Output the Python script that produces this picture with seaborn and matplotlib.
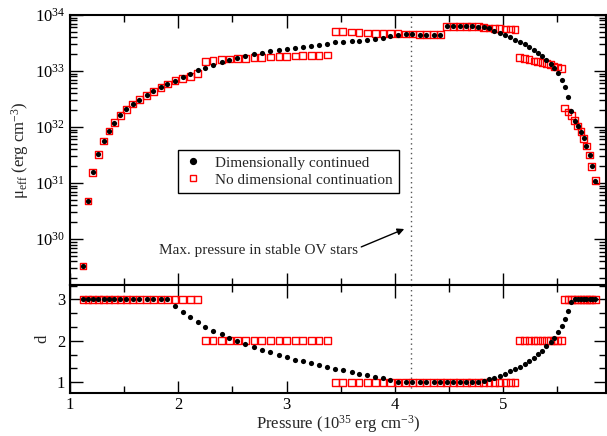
import numpy as np
import pandas as pd
import matplotlib
matplotlib.use("Agg")
import matplotlib.pyplot as plt
import matplotlib.ticker as mticker
from matplotlib.lines import Line2D
import seaborn as sns

# Pressure grid (10^35 erg cm^-3), shared by both solution branches
pressure = [
    1.12, 1.166, 1.21, 1.26, 1.31, 1.36, 1.41, 1.465, 1.52, 1.58,
    1.64, 1.71, 1.77, 1.84, 1.90, 1.97, 2.04, 2.11, 2.18, 2.25,
    2.32, 2.40, 2.47, 2.545, 2.62, 2.70, 2.77, 2.85, 2.93, 3.00,
    3.08, 3.15, 3.23, 3.30, 3.375, 3.45, 3.52, 3.60, 3.67, 3.745,
    3.82, 3.89, 3.96, 4.03, 4.10, 4.16, 4.23, 4.29, 4.36, 4.42,
    4.48, 4.54, 4.60, 4.66, 4.71, 4.77, 4.82, 4.87, 4.92, 4.97,
    5.02, 5.065, 5.11, 5.155, 5.20, 5.24, 5.285, 5.32, 5.36, 5.40,
    5.44, 5.47, 5.505, 5.54, 5.57, 5.60, 5.63, 5.66, 5.69, 5.72,
    5.745, 5.77, 5.80, 5.82, 5.85,
]

# log10 of mu_eff (erg cm^-3), dimensionally continued solution
log_mu_cont = [
    29.52, 30.68, 31.19, 31.51, 31.75, 31.93, 32.08, 32.21, 32.32, 32.41,
    32.49, 32.57, 32.64, 32.71, 32.77, 32.83, 32.89, 32.95, 33.01, 33.05,
    33.10, 33.16, 33.19, 33.23, 33.26, 33.30, 33.33, 33.35, 33.37, 33.39,
    33.41, 33.43, 33.45, 33.47, 33.49, 33.51, 33.52, 33.53, 33.54, 33.56,
    33.58, 33.595, 33.625, 33.65, 33.66, 33.66, 33.65, 33.65, 33.65, 33.65,
    33.80, 33.80, 33.80, 33.80, 33.795, 33.79, 33.78, 33.76, 33.71, 33.68,
    33.64, 33.60, 33.56, 33.52, 33.48, 33.43, 33.38, 33.33, 33.27, 33.20,
    33.13, 33.05, 32.96, 32.845, 32.71, 32.53, 32.28, 32.11, 32.02, 31.92,
    31.80, 31.66, 31.50, 31.30, 31.04,
]

# log10 of mu_eff, integer-dimension solution
log_mu_int = [
    29.52, 30.68, 31.19, 31.51, 31.75, 31.93, 32.08, 32.21, 32.32, 32.41,
    32.49, 32.57, 32.64, 32.71, 32.77, 32.83, 32.86, 32.905, 32.95, 33.173,
    33.19, 33.20, 33.214, 33.22, 33.226, 33.238, 33.244, 33.25, 33.256, 33.262,
    33.268, 33.274, 33.28, 33.28, 33.286, 33.708, 33.70, 33.696, 33.69, 33.68,
    33.673, 33.673, 33.667, 33.667, 33.66, 33.66, 33.65, 33.65, 33.65, 33.65,
    33.80, 33.80, 33.80, 33.80, 33.795, 33.79, 33.78, 33.768, 33.762, 33.756,
    33.75, 33.75, 33.744, 33.24, 33.22, 33.20, 33.18, 33.17, 33.15, 33.13,
    33.11, 33.08, 33.07, 33.05, 32.34, 32.27, 32.20, 32.11, 32.02, 31.92,
    31.80, 31.66, 31.50, 31.30, 31.04,
]

# effective dimension d
d_cont = [
    3.0, 3.0, 3.0, 3.0, 3.0, 3.0, 3.0, 3.0, 3.0, 3.0,
    3.0, 3.0, 3.0, 3.0, 3.0, 2.84, 2.695, 2.566, 2.446, 2.34,
    2.245, 2.157, 2.076, 2.00, 1.916, 1.843, 1.78, 1.72, 1.66, 1.60,
    1.54, 1.51, 1.46, 1.41, 1.37, 1.32, 1.29, 1.25, 1.21, 1.17,
    1.135, 1.095, 1.064, 1.016, 1.008, 1.0, 1.0, 1.0, 1.0, 1.0,
    1.0, 1.0, 1.0, 1.0, 1.0, 1.0, 1.02, 1.07, 1.11, 1.15,
    1.20, 1.26, 1.31, 1.38, 1.44, 1.51, 1.59, 1.68, 1.76, 1.87,
    1.97, 2.08, 2.22, 2.37, 2.53, 2.71, 2.93, 3.0, 3.0, 3.0,
    3.0, 3.0, 3.0, 3.0, 3.0,
]

d_int = [3] * 19 + [2] * 16 + [1] * 28 + [2] * 11 + [3] * 11

p_max_stable = 4.15

legend_labels = ["Dimensionally continued", "No dimensional continuation"]
x_label = r"Pressure (10$^{35}$ erg cm$^{-3}$)"
y_label_top = r"μ$_{\rm eff}$ (erg cm$^{-3}$)"
y_label_bottom = "d"
note_text = "Max. pressure in stable OV stars"

df = pd.DataFrame({
    "P": pressure,
    "mu_cont": np.power(10.0, log_mu_cont),
    "mu_int": np.power(10.0, log_mu_int),
    "d_cont": d_cont,
    "d_int": d_int,
})

sns.set_theme(style="ticks")
plt.rcParams["font.family"] = ["Liberation Serif", "DejaVu Serif"]
plt.rcParams["mathtext.fontset"] = "custom"
plt.rcParams["mathtext.rm"] = "Liberation Serif"
plt.rcParams["mathtext.it"] = "Liberation Serif:italic"
plt.rcParams["mathtext.bf"] = "Liberation Serif:bold"

FS = 11

fig = plt.figure(figsize=(6.07, 4.36), dpi=100)
ax_top = fig.add_axes([0.1153, 0.3463, 0.8830, 0.6193])
ax_bot = fig.add_axes([0.1153, 0.0986, 0.8830, 0.2477], sharex=ax_top)

red_kw = dict(marker="s", s=24, facecolor="none", edgecolor="red", linewidth=1.0, zorder=3)
blk_kw = dict(marker="o", s=14, color="black", edgecolor="black", linewidth=0, zorder=4)

sns.scatterplot(data=df, x="P", y="mu_int", ax=ax_top, **red_kw)
sns.scatterplot(data=df, x="P", y="mu_cont", ax=ax_top, **blk_kw)
sns.scatterplot(data=df, x="P", y="d_int", ax=ax_bot, **red_kw)
sns.scatterplot(data=df, x="P", y="d_cont", ax=ax_bot, **blk_kw)

for ax in (ax_top, ax_bot):
    ax.axvline(p_max_stable, color="#555555", linestyle=(0, (1, 2.5)), linewidth=1.0, zorder=1)
    for sp in ax.spines.values():
        sp.set_linewidth(1.5)
        sp.set_color("black")
    ax.tick_params(which="both", direction="in", top=True, right=True,
                   colors="black", labelsize=FS + 1, width=1.0)
    ax.tick_params(which="major", length=9)
    ax.tick_params(which="minor", length=5)
    ax.set_xlim(1.0, 5.95)
    ax.xaxis.set_major_locator(mticker.MultipleLocator(1))
    ax.xaxis.set_minor_locator(mticker.MultipleLocator(0.5))

ax_top.set_yscale("log")
ax_top.set_ylim(10 ** 29.18, 1e34)
ax_top.yaxis.set_major_locator(mticker.LogLocator(base=10, numticks=10))
ax_top.yaxis.set_minor_locator(mticker.LogLocator(base=10, subs=np.arange(2, 10), numticks=20))
ax_top.yaxis.set_major_formatter(mticker.LogFormatterMathtext())
ax_top.yaxis.set_minor_formatter(mticker.NullFormatter())
ax_top.tick_params(axis="x", labelbottom=False)
ax_top.set_xlabel("")
ax_top.set_ylabel(y_label_top, fontsize=FS + 1)
ax_top.yaxis.set_label_coords(-0.072, 0.5)

ax_bot.set_ylim(0.74, 3.35)
ax_bot.yaxis.set_major_locator(mticker.FixedLocator([1, 2, 3]))
ax_bot.yaxis.set_minor_locator(mticker.MultipleLocator(1 / 3))
ax_bot.set_xlabel(x_label, fontsize=FS + 1, labelpad=0)
ax_bot.set_ylabel(y_label_bottom, fontsize=FS + 1)
ax_bot.yaxis.set_label_coords(-0.036, 0.5)
ax_bot.tick_params(axis="x", pad=3)

handles = [
    Line2D([], [], linestyle="none", marker="o", markersize=4.2,
           markerfacecolor="black", markeredgecolor="black"),
    Line2D([], [], linestyle="none", marker="s", markersize=5,
           markerfacecolor="none", markeredgecolor="red", markeredgewidth=1.0),
]
leg = ax_top.legend(handles, legend_labels, loc="upper left",
                    bbox_to_anchor=(0.2015, 0.5), borderaxespad=0,
                    frameon=True, fancybox=False, edgecolor="black",
                    framealpha=1, fontsize=FS, handlelength=1.2,
                    handletextpad=0.8, borderpad=0.4, labelspacing=0.2)
leg.get_frame().set_linewidth(1.0)

ax_top.text(3.66, 10 ** 29.80, note_text, ha="right", va="center", fontsize=FS)
ax_top.annotate("", xy=(4.087, 10 ** 30.18), xytext=(3.69, 10 ** 29.86),
                arrowprops=dict(arrowstyle="-|>", color="black", lw=1.0,
                                mutation_scale=10, shrinkA=0, shrinkB=0))

fig.savefig("out.png", dpi=100)
